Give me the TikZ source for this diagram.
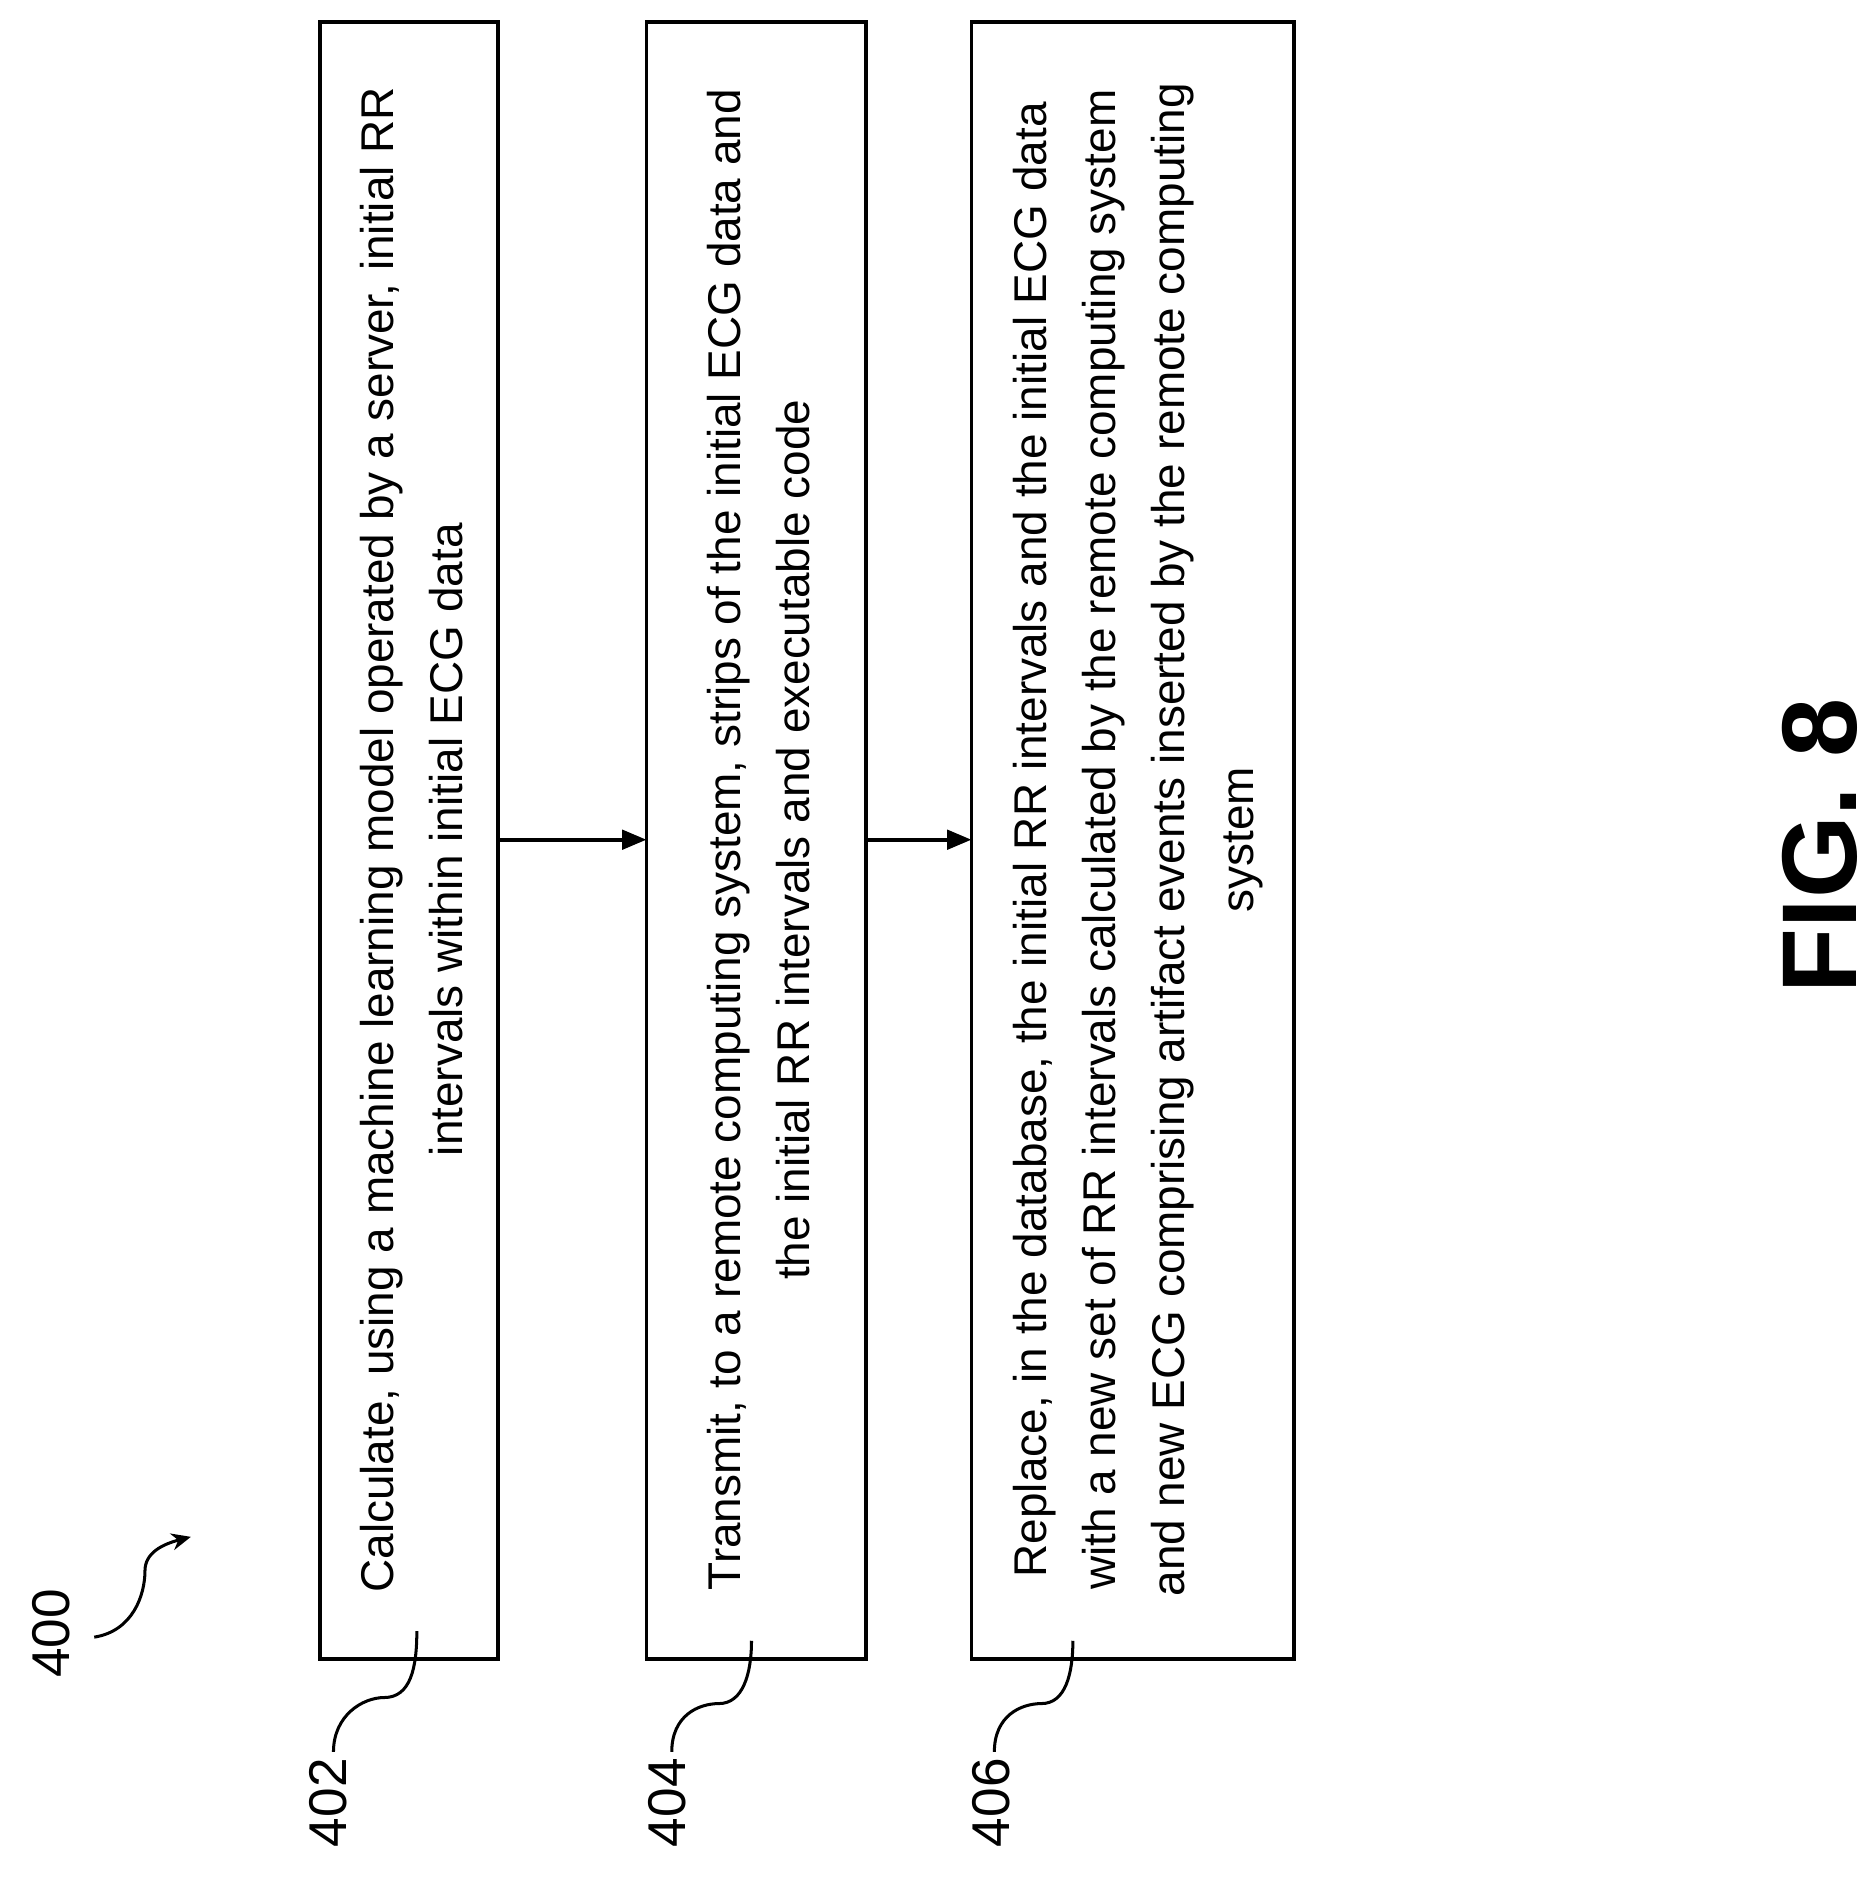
\documentclass[tikz,border=0pt]{standalone}
\usepackage{fontspec}
\setmainfont{Liberation Sans}
\usetikzlibrary{arrows.meta}
\begin{document}
\begin{tikzpicture}[x=1pt,y=-1pt,
  box/.style={draw,line width=3pt},
  txt/.style={rotate=90,align=center,font=\fontsize{38}{57}\selectfont,inner sep=0},
  lab/.style={rotate=90,font=\fontsize{44}{50}\selectfont,inner sep=0},
  lead/.style={line width=2.5pt},
  arr/.style={line width=3pt,-{Triangle[length=20pt,width=16pt]}}]
\useasboundingbox (0,0) rectangle (1552,1561);
\draw[box] (265,18) rectangle (412,1373); \coordinate (b1r) at (412,695);
\draw[box] (535,18) rectangle (717,1373); \coordinate (b2l) at (535,695); \coordinate (b2r) at (717,695);
\draw[box] (804,18) rectangle (1071,1373); \coordinate (b3l) at (804,695);
\node[txt] (t1) at (341,695) {Calculate, using a machine learning model operated by a server, initial RR\\intervals within initial ECG data};
\node[txt] (t2) at (628,695) {Transmit, to a remote computing system, strips of the initial ECG data and\\the initial RR intervals and executable code};
\node[txt] (t3) at (942,695) {Replace, in the database, the initial RR intervals and the initial ECG data\\with a new set of RR intervals calculated by the remote computing system\\and new ECG comprising artifact events inserted by the remote computing\\system};
\draw[arr] (b1r) -- (b2l);
\draw[arr] (b2r) -- (b3l);
\node[lab] (l400) at (42,1352) {400};
\node[lab] (l402) at (272,1492) {402};
\node[lab] (l404) at (552,1492) {404};
\node[lab] (l406) at (820,1492) {406};
\draw[lead,-{Stealth[length=16pt,width=14pt]}] (78,1355) .. controls (110,1350) and (120,1320) .. (120,1300) .. controls (120,1285) and (135,1278) .. (158,1272);
\draw[lead] (276,1450) .. controls (276,1420) and (300,1405) .. (318,1405) .. controls (340,1405) and (345,1380) .. (345,1350);
\draw[lead] (556,1450) .. controls (556,1420) and (578,1410) .. (595,1410) .. controls (615,1410) and (622,1385) .. (622,1358);
\draw[lead] (823,1450) .. controls (823,1420) and (845,1410) .. (862,1410) .. controls (882,1410) and (888,1385) .. (888,1358);
\node[rotate=90,font=\bfseries\fontsize{88}{100}\selectfont,inner sep=0] (fig) at (1506,700) {FIG. 8};
\end{tikzpicture}
\end{document}
